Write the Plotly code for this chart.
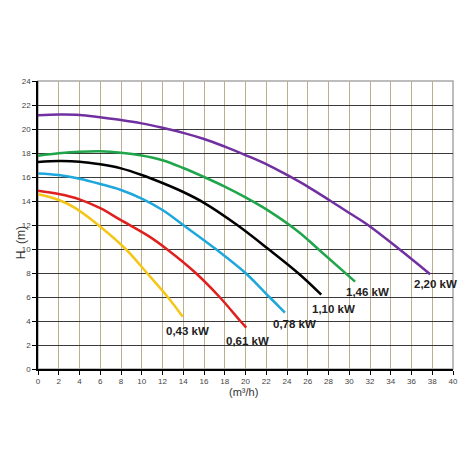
import plotly.graph_objects as go

# pump curves: flow (m3/h) vs head (m)
x_220 = [0, 2, 4, 6, 8, 10, 12, 14, 16, 18, 20, 22, 24, 26, 28.2, 30, 31.8, 34.8, 37.8]
y_220 = [21.14, 21.2, 21.17, 20.97, 20.75, 20.47, 20.1, 19.68, 19.17, 18.53, 17.83,
         17.08, 16.17, 15.2, 14, 13.0, 12, 10, 7.9]

x_146 = [0, 2, 4, 6, 8, 10, 12, 14, 16, 18, 20, 22.2, 25.1, 27, 30.56]
y_146 = [17.78, 17.97, 18.1, 18.14, 18.03, 17.8, 17.4, 16.75, 16.0, 15.2, 14.3,
         13.2, 11.44, 10, 7.28]

x_110 = [0, 2, 4, 6, 8, 10, 12, 14, 16, 19.2, 22.2, 25.2, 27.3]
y_110 = [17.25, 17.33, 17.28, 17.06, 16.72, 16.17, 15.5, 14.75, 13.85, 12, 10, 7.9, 6.2]

x_078 = [0, 2, 4, 6, 8, 10, 12, 14, 17.13, 20, 22.3, 23.8]
y_078 = [16.3, 16.17, 15.86, 15.42, 14.92, 14.2, 13.25, 12, 10, 8, 6, 4.7]

x_061 = [0, 2, 4, 6, 8, 10.74, 12.4, 15.2, 17.5, 19.5, 20.07]
y_061 = [14.86, 14.58, 14.14, 13.4, 12.4, 11.03, 10, 8, 6, 4, 3.45]

x_043 = [0, 2, 3.64, 5.95, 8.45, 10.5, 12.5, 13.95]
y_043 = [14.56, 14.08, 13.39, 11.9, 10, 8, 6, 4.36]

labels = ["2,20 kW", "1,46 kW", "1,10 kW", "0,78 kW", "0,61 kW", "0,43 kW"]
label_x = [36.05, 29.5, 26.2, 22.5, 17.9, 12.1]
label_y = [7.1, 6.45, 5.0, 3.75, 2.3, 3.2]

x_ticks = list(range(0, 41, 2))
y_ticks = list(range(0, 25, 2))

series = [
    (x_220, y_220, "#7030a0"),
    (x_146, y_146, "#1fa54a"),
    (x_110, y_110, "#000000"),
    (x_078, y_078, "#1ea7dc"),
    (x_061, y_061, "#e0201e"),
    (x_043, y_043, "#f5c518"),
]

fig = go.Figure()
for (xs, ys, col), name in zip(series, labels):
    fig.add_trace(go.Scatter(x=xs, y=ys, mode="lines", name=name,
                             line=dict(color=col, width=2.5, shape="spline", smoothing=1.0)))

for txt, lx, ly in zip(labels, label_x, label_y):
    fig.add_annotation(x=lx, y=ly, text="<b>" + txt + "</b>", showarrow=False,
                       xanchor="left", yanchor="middle",
                       font=dict(family="Liberation Sans", size=11.5, color="#222222"))

fig.add_annotation(x=-0.062, y=0.4375, xref="paper", yref="paper", text="H  (m)",
                   textangle=-90, showarrow=False,
                   font=dict(family="Liberation Sans", size=12, color="#333333"))
fig.add_annotation(x=0.496, y=-0.108, xref="paper", yref="paper", text="(m³/h)",
                   showarrow=False,
                   font=dict(family="Liberation Sans", size=11, color="#333333"))

# grey frame around the plot area
fig.add_shape(type="rect", xref="paper", yref="paper", x0=0, y0=0, x1=1, y1=1,
              line=dict(color="#a8a8a8", width=1.5), layer="below")

fig.update_xaxes(range=[0, 40], tickvals=x_ticks, showgrid=True, gridcolor="#bbb08e",
                 gridwidth=1, zeroline=False, showline=True, linecolor="#000000",
                 linewidth=1.5, ticks="outside", ticklen=4, tickcolor="#000000",
                 tickfont=dict(family="Liberation Sans", size=8, color="#444444"))
fig.update_yaxes(range=[0, 24], tickvals=y_ticks, showgrid=True, gridcolor="#3a3a3a",
                 gridwidth=1, zeroline=False, showline=True, linecolor="#000000",
                 linewidth=1.5, ticks="outside", ticklen=4, tickcolor="#000000",
                 tickfont=dict(family="Liberation Sans", size=8, color="#444444"))

# page body has an 8px margin, so the figure is 8px smaller than the window
fig.update_layout(width=462, height=462, showlegend=False,
                  margin=dict(l=30, r=15, t=73, b=101),
                  plot_bgcolor="white", paper_bgcolor="white")

fig.write_html("out.html")
